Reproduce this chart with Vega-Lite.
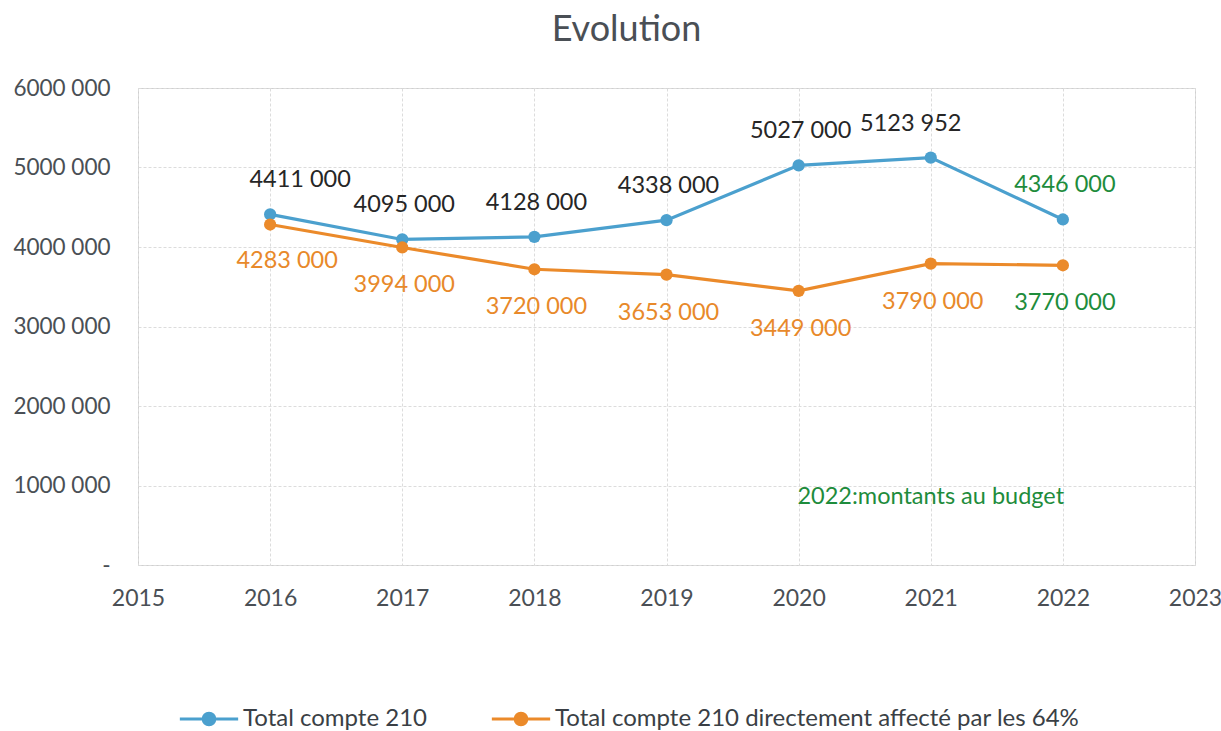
{
  "$schema": "https://vega.github.io/schema/vega-lite/v6.json",
  "autosize": {"type": "none"},
  "width": 1057,
  "height": 477,
  "padding": {"left": 138, "top": 88, "right": 26, "bottom": 166},
  "background": "white",
  "title": {
    "text": "Evolution",
    "font": "Lato",
    "fontSize": 36,
    "fontWeight": "normal",
    "color": "#4a4f55",
    "anchor": "middle",
    "frame": "group",
    "baseline": "middle",
    "offset": 11,
    "dx": -40
  },
  "config": {
    "view": {"stroke": "#cfcfcf", "strokeWidth": 1},
    "font": "Lato"
  },
  "datasets": {
    "series": [
      {"year": 2016, "series": "Total compte 210", "value": 4411000, "label": "4411 000"},
      {"year": 2017, "series": "Total compte 210", "value": 4095000, "label": "4095 000"},
      {"year": 2018, "series": "Total compte 210", "value": 4128000, "label": "4128 000"},
      {"year": 2019, "series": "Total compte 210", "value": 4338000, "label": "4338 000"},
      {"year": 2020, "series": "Total compte 210", "value": 5027000, "label": "5027 000"},
      {"year": 2021, "series": "Total compte 210", "value": 5123952, "label": "5123 952"},
      {"year": 2022, "series": "Total compte 210", "value": 4346000, "label": "4346 000"},
      {"year": 2016, "series": "Total compte 210 directement affecté par les 64%", "value": 4283000, "label": "4283 000"},
      {"year": 2017, "series": "Total compte 210 directement affecté par les 64%", "value": 3994000, "label": "3994 000"},
      {"year": 2018, "series": "Total compte 210 directement affecté par les 64%", "value": 3720000, "label": "3720 000"},
      {"year": 2019, "series": "Total compte 210 directement affecté par les 64%", "value": 3653000, "label": "3653 000"},
      {"year": 2020, "series": "Total compte 210 directement affecté par les 64%", "value": 3449000, "label": "3449 000"},
      {"year": 2021, "series": "Total compte 210 directement affecté par les 64%", "value": 3790000, "label": "3790 000"},
      {"year": 2022, "series": "Total compte 210 directement affecté par les 64%", "value": 3770000, "label": "3770 000"}
    ],
    "note": [
      {"year": 2021, "value": 850000, "text": "2022:montants au budget"}
    ]
  },
  "data": {"name": "series"},
  "encoding": {
    "x": {
      "field": "year",
      "type": "quantitative",
      "scale": {"domain": [2015, 2023], "nice": false, "zero": false},
      "axis": {
        "title": null,
        "values": [2015, 2016, 2017, 2018, 2019, 2020, 2021, 2022, 2023],
        "format": "d",
        "domain": false,
        "ticks": false,
        "labelFontSize": 23,
        "labelColor": "#4a4f55",
        "labelPadding": 22,
        "labelFlush": false,
        "gridColor": "#dcdcdc",
        "gridDash": [3, 2]
      }
    },
    "y": {
      "field": "value",
      "type": "quantitative",
      "scale": {"domain": [0, 6000000], "nice": false},
      "axis": {
        "title": null,
        "values": [0, 1000000, 2000000, 3000000, 4000000, 5000000, 6000000],
        "labelExpr": "datum.value == 0 ? '-' : format(floor(datum.value / 1000000), 'd') + '000 000'",
        "domain": false,
        "ticks": false,
        "labelFontSize": 22.5,
        "labelColor": "#4a4f55",
        "labelPadding": 28,
        "gridColor": "#dcdcdc",
        "gridDash": [3, 2]
      }
    }
  },
  "layer": [
    {
      "mark": {"type": "line", "strokeWidth": 3.2},
      "encoding": {
        "color": {
          "field": "series",
          "type": "nominal",
          "scale": {
            "domain": ["Total compte 210", "Total compte 210 directement affecté par les 64%"],
            "range": ["#4ba0ce", "#eb8a2a"]
          },
          "legend": {
            "title": null,
            "orient": "none",
            "direction": "horizontal",
            "legendX": 40,
            "legendY": 600,
            "symbolType": "M-1,0L1,0M-0.2,0A0.2,0.2 0 1,1 0.2,0A0.2,0.2 0 1,1 -0.2,0Z",
            "symbolSize": 3400,
            "symbolStrokeWidth": 3,
            "labelFontSize": 24,
            "labelColor": "#3a3f45",
            "labelLimit": 700,
            "columnPadding": 58,
            "labelOffset": 3,
            "encode": {
              "symbols": {"update": {"fill": {"scale": "color", "field": "value"}}}
            }
          }
        }
      }
    },
    {
      "mark": {"type": "point", "filled": true, "size": 150, "opacity": 1},
      "encoding": {
        "color": {"field": "series", "type": "nominal", "legend": null}
      }
    },
    {
      "transform": [{"filter": "datum.series == 'Total compte 210' && datum.year != 2016 && datum.year != 2021"}],
      "mark": {"type": "text", "fontSize": 23.5, "dy": -34, "dx": 2},
      "encoding": {
        "text": {"field": "label"},
        "color": {"condition": {"test": "datum.year == 2022", "value": "#1e8c3c"}, "value": "#262626"}
      }
    },
    {
      "transform": [{"filter": "datum.series == 'Total compte 210' && datum.year == 2016"}],
      "mark": {"type": "text", "fontSize": 23.5, "dy": -34, "dx": 30, "color": "#262626"},
      "encoding": {"text": {"field": "label"}}
    },
    {
      "transform": [{"filter": "datum.series == 'Total compte 210' && datum.year == 2021"}],
      "mark": {"type": "text", "fontSize": 23.5, "dy": -34, "dx": -20, "color": "#262626"},
      "encoding": {"text": {"field": "label"}}
    },
    {
      "transform": [{"filter": "datum.series != 'Total compte 210' && datum.year != 2016"}],
      "mark": {"type": "text", "fontSize": 23.5, "dy": 38, "dx": 2},
      "encoding": {
        "text": {"field": "label"},
        "color": {"condition": {"test": "datum.year == 2022", "value": "#1e8c3c"}, "value": "#e8892a"}
      }
    },
    {
      "transform": [{"filter": "datum.series != 'Total compte 210' && datum.year == 2016"}],
      "mark": {"type": "text", "fontSize": 23.5, "dy": 36, "dx": 17, "color": "#e8892a"},
      "encoding": {"text": {"field": "label"}}
    },
    {
      "data": {"name": "note"},
      "mark": {"type": "text", "fontSize": 23.5, "color": "#1e8c3c"},
      "encoding": {"text": {"field": "text"}}
    }
  ]
}
